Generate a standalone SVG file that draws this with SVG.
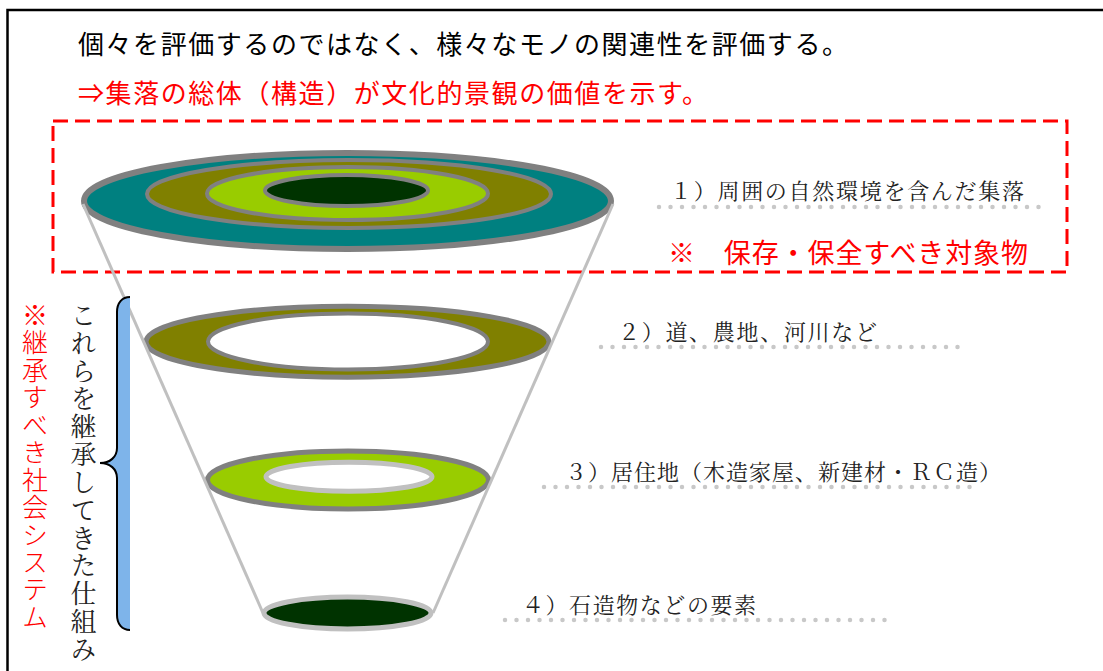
<svg xmlns="http://www.w3.org/2000/svg" width="1103" height="671" viewBox="0 0 1103 671">
<style>
.sans{font-family:"Noto Sans CJK JP","Noto Sans CJK SC",sans-serif;}
.serif{font-family:"Noto Serif CJK JP","Noto Sans CJK JP",serif;}
.head{font-size:26px;}
.lbl{font-size:22px;fill:#222;}
.dots{fill:none;stroke:#c8c8c8;stroke-width:4.5;stroke-linecap:round;stroke-dasharray:0 11.5;}
.vert{writing-mode:vertical-rl;font-size:26px;}
.gstroke{stroke:#808080;}
.sstroke{stroke:#c0c0c0;}
</style>
<rect width="1103" height="671" fill="#fff"/>
<path d="M7.5,671 V10 H1103" fill="none" stroke="#000" stroke-width="2.5"/>

<g id="header">
<text class="sans head" x="78" y="53.5" textLength="770" lengthAdjust="spacing" fill="#000">個々を評価するのではなく、様々なモノの関連性を評価する。</text>
<text class="sans head" x="78" y="103" textLength="630" lengthAdjust="spacing" fill="#ff0000">⇒集落の総体（構造）が文化的景観の価値を示す。</text>
</g>

<rect id="preserve-box" x="53" y="121" width="1014" height="151" fill="none" stroke="#ff0000" stroke-width="3" stroke-dasharray="15 7"/>

<g id="disc1">
<ellipse cx="347.5" cy="201" rx="263.5" ry="48" fill="#008080" class="gstroke" stroke-width="6"/>
<ellipse cx="349" cy="194" rx="202" ry="34" fill="#808000" class="gstroke" stroke-width="4"/>
<ellipse cx="347.5" cy="193.5" rx="140.5" ry="26.5" fill="#99cc00" class="gstroke" stroke-width="4"/>
<ellipse cx="346.5" cy="190.5" rx="81.5" ry="15.5" fill="#003300" class="gstroke" stroke-width="4"/>
</g>

<g id="disc2">
<ellipse cx="347.5" cy="341.7" rx="201.5" ry="35.5" fill="#808000" class="gstroke" stroke-width="5"/>
<ellipse cx="348" cy="341.5" rx="140" ry="28" fill="#fff" class="gstroke" stroke-width="4"/>
</g>

<g id="disc3">
<ellipse cx="348" cy="480" rx="140.5" ry="29" fill="#99cc00" class="gstroke" stroke-width="5"/>
<ellipse cx="349" cy="476.7" rx="83" ry="14.5" fill="#fff" class="sstroke" stroke-width="5"/>
</g>

<g id="disc4">
<ellipse cx="347.5" cy="613" rx="83.5" ry="16" fill="#003300" class="sstroke" stroke-width="5"/>
</g>

<g id="connectors">
<line x1="83" y1="204" x2="263" y2="613" stroke="#c0c0c0" stroke-width="3"/>
<line x1="613" y1="204" x2="433" y2="613" stroke="#c0c0c0" stroke-width="3"/>
</g>

<g id="label1">
<text class="serif lbl" x="670" y="198.5" textLength="354" lengthAdjust="spacing">１）周囲の自然環境を含んだ集落</text>
<path class="dots" d="M659,207 H1047"/>
<text class="sans" x="668" y="263" font-size="27" textLength="360" lengthAdjust="spacing" fill="#ff0000">※　保存・保全すべき対象物</text>
</g>

<g id="label2">
<text class="serif lbl" x="618" y="340" textLength="259" lengthAdjust="spacing">２）道、農地、河川など</text>
<path class="dots" d="M601,347 H965"/>
</g>

<g id="label3">
<text class="serif lbl" x="565" y="480" textLength="436" lengthAdjust="spacing">３）居住地（木造家屋、新建材・ＲＣ造）</text>
<path class="dots" d="M544,487 H980"/>
</g>

<g id="label4">
<text class="serif lbl" x="522" y="613" textLength="234" lengthAdjust="spacing">４）石造物などの要素</text>
<path class="dots" d="M505,620 H892"/>
</g>

<g id="brace">
<path d="M130,297 C122,297 117,303 117,312 L117,448 C117,457 110,463 100,463 C110,463 117,469 117,478 L117,615 C117,624 122,630 130,630 Z" fill="#7eb4ea"/>
<path d="M130,297 C122,297 117,303 117,312 L117,448 C117,457 110,463 100,463 C110,463 117,469 117,478 L117,615 C117,624 122,630 130,630" fill="none" stroke="#000" stroke-width="2"/>
</g>

<g id="side-labels">
<text class="serif vert" x="83.5" y="302" textLength="360" lengthAdjust="spacing" fill="#222">これらを継承してきた仕組み</text>
<text class="sans vert" x="35" y="302" textLength="328" lengthAdjust="spacing" fill="#ff0000" font-weight="300">※継承すべき社会システム</text>
</g>
</svg>
